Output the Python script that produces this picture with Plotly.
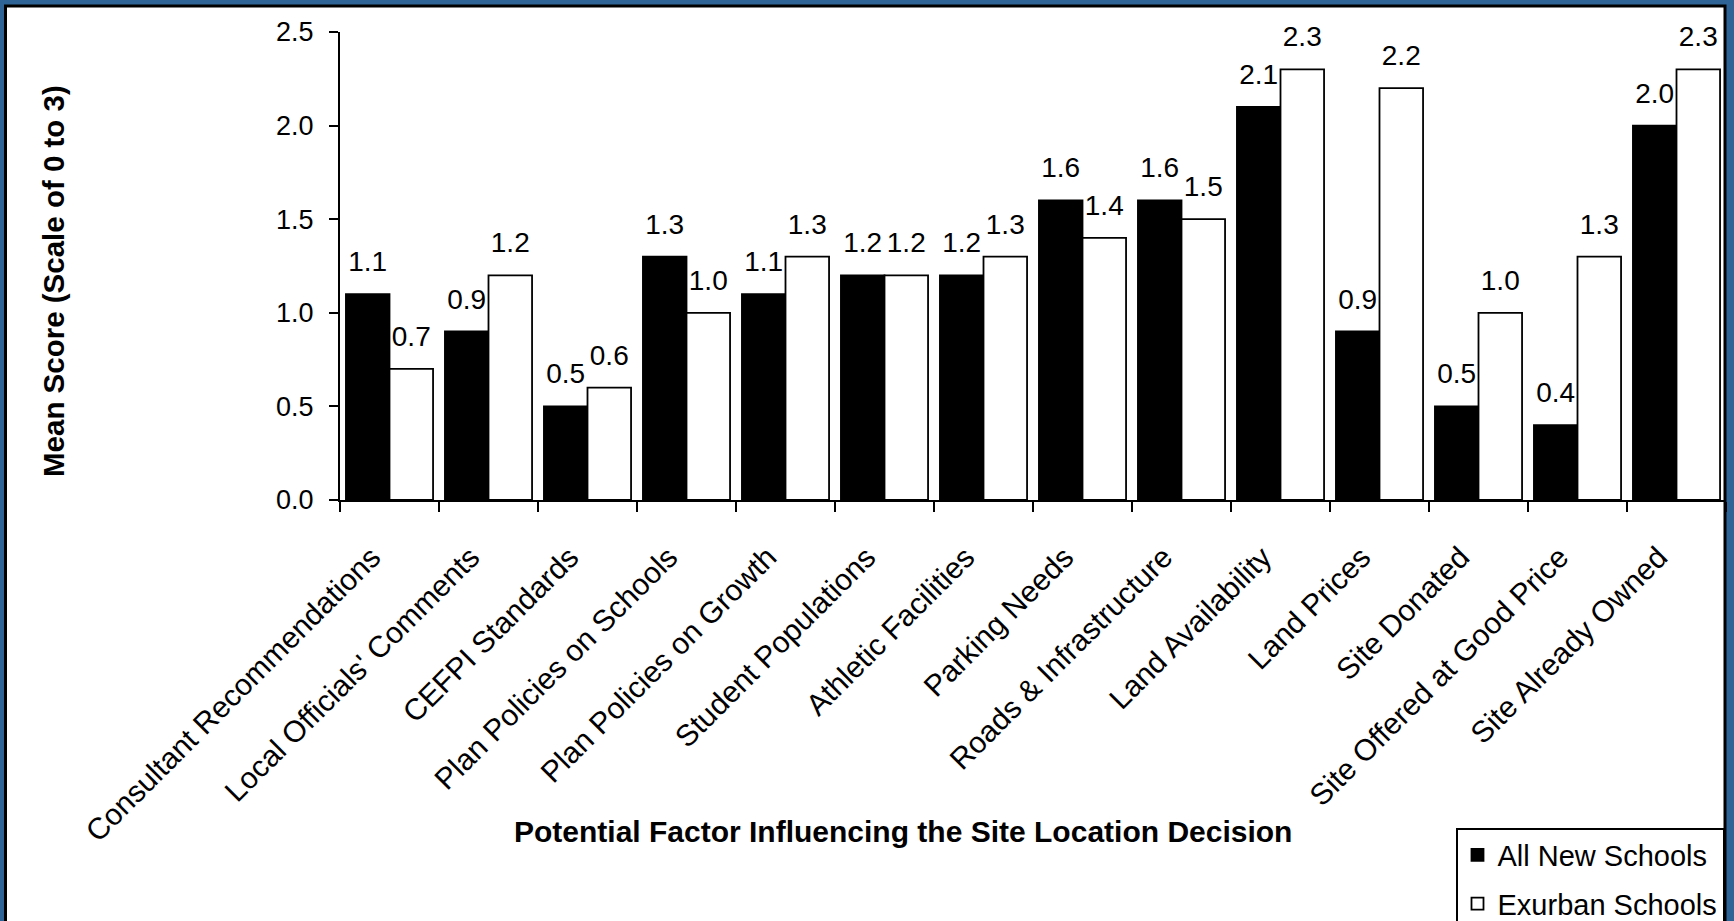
import plotly.graph_objects as go

categories = [
    "Consultant Recommendations", "Local Officials' Comments", "CEFPI Standards",
    "Plan Policies on Schools", "Plan Policies on Growth", "Student Populations",
    "Athletic Facilities", "Parking Needs", "Roads & Infrastructure",
    "Land Availability", "Land Prices", "Site Donated",
    "Site Offered at Good Price", "Site Already Owned",
]
all_new = [1.1, 0.9, 0.5, 1.3, 1.1, 1.2, 1.2, 1.6, 1.6, 2.1, 0.9, 0.5, 0.4, 2.0]
exurban = [0.7, 1.2, 0.6, 1.0, 1.3, 1.2, 1.3, 1.4, 1.5, 2.3, 2.2, 1.0, 1.3, 2.3]
series_names = ["All New Schools", "Exurban Schools"]
y_ticks = [0.0, 0.5, 1.0, 1.5, 2.0, 2.5]

FONT = "Liberation Sans, Arial, sans-serif"
W, H = 1734, 921
L, R, T, B = 340, 1726, 32, 500
BLUE = "#2F6496"


def px_x(p):
    return (p - L) / (R - L)


def px_y(p):
    return (B - p) / (B - T)


fig = go.Figure()

for name, vals, fill, grp in [
    (series_names[0], all_new, "black", "a"),
    (series_names[1], exurban, "white", "b"),
]:
    fig.add_trace(go.Bar(
        x=categories, y=vals, name=name,
        marker=dict(color=fill, line=dict(color="black", width=1.8)),
        offsetgroup=grp, legendgroup=grp,
        hoverinfo="skip",
    ))

for vals, grp in [(all_new, "a"), (exurban, "b")]:
    fig.add_trace(go.Scatter(
        x=categories, y=vals, mode="markers+text",
        text=[f"{v:.1f}" for v in vals], textposition="top center",
        textfont=dict(family=FONT, size=28, color="black"),
        marker=dict(size=24, color="rgba(0,0,0,0)"),
        offsetgroup=grp, showlegend=False, hoverinfo="skip", cliponaxis=False,
    ))

fig.update_layout(
    width=W, height=H,
    margin=dict(l=L, r=W - R, t=T, b=H - B, autoexpand=False),
    paper_bgcolor=BLUE,
    plot_bgcolor="rgba(0,0,0,0)",
    barmode="group", bargap=0.12, bargroupgap=0.0,
    scattermode="group", scattergap=0.12,
    font=dict(family=FONT, size=26, color="black"),
    showlegend=True,
    legend=dict(
        x=px_x(1456), y=px_y(828), xanchor="left", yanchor="top",
        bgcolor="white", bordercolor="black", borderwidth=1.5,
        font=dict(family=FONT, size=29, color="black"),
        traceorder="grouped", tracegroupgap=8,
    ),
    shapes=[dict(
        type="rect", xref="paper", yref="paper",
        x0=px_x(5.5), x1=px_x(1725), y0=px_y(960), y1=px_y(6),
        fillcolor="white", line=dict(color="black", width=3), layer="below",
    )],
    annotations=[
        dict(text="<b>Mean Score (Scale of 0 to 3)</b>", xref="paper", yref="paper",
             x=px_x(53), y=px_y(281), xanchor="center", yanchor="middle",
             textangle=-90, showarrow=False, font=dict(family=FONT, size=29.5)),
        dict(text="<b>Potential Factor Influencing the Site Location Decision</b>",
             xref="paper", yref="paper", x=px_x(903), y=px_y(831),
             xanchor="center", yanchor="middle", showarrow=False,
             font=dict(family=FONT, size=30)),
    ],
)

fig.update_xaxes(
    type="category", tickangle=-45, tickson="boundaries",
    tickvals=categories, ticktext=[c + "\u00a0\u00a0\u00a0" for c in categories],
    ticks="outside", ticklen=10, tickwidth=2, tickcolor="black",
    showline=True, linecolor="black", linewidth=2,
    showgrid=False, zeroline=False, ticklabelstandoff=8,
    tickfont=dict(family=FONT, size=30, color="black"),
)
fig.update_yaxes(
    range=[0, 2.5], tickvals=y_ticks, tickformat=".1f",
    ticks="outside", ticklen=9, tickwidth=2, tickcolor="black",
    showline=True, linecolor="black", linewidth=2,
    showgrid=False, zeroline=False, ticklabelstandoff=10,
    tickfont=dict(family=FONT, size=27, color="black"),
)

fig.write_html(
    "out.html",
    config={"displayModeBar": False},
    post_script="document.body.style.margin='0';document.body.style.overflow='hidden';",
)
